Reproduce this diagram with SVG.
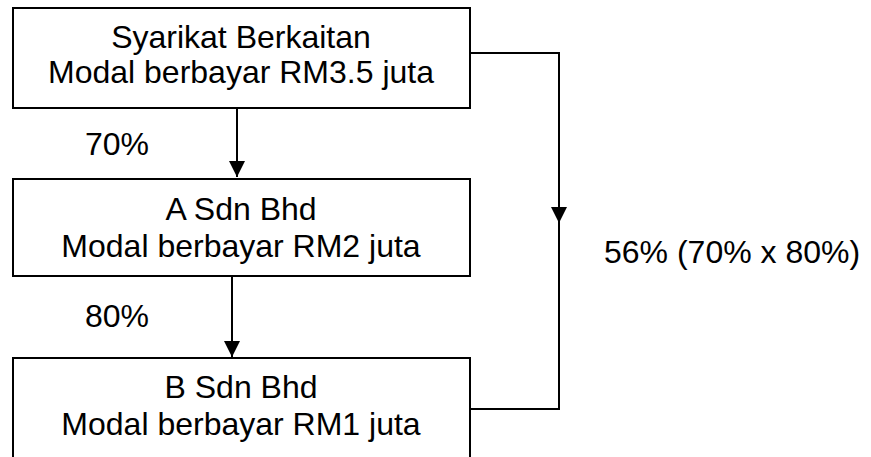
<svg xmlns="http://www.w3.org/2000/svg" width="871" height="457" viewBox="0 0 871 457">
<style>
.box{fill:#fff;stroke:#000;stroke-width:2}
.t{font-family:"Liberation Sans",Arial,sans-serif;font-size:32px;fill:#000}
.c{text-anchor:middle}
.ln{fill:none;stroke:#000;stroke-width:2}
</style>
<defs>
<marker id="ah" markerUnits="userSpaceOnUse" markerWidth="16" markerHeight="16" refX="16" refY="8" orient="auto" viewBox="0 0 16 16">
<path d="M0,0 L16,8 L0,16 z" fill="#000"/>
</marker>
</defs>
<rect width="871" height="457" fill="#fff"/>
<g id="connectors">
<path class="ln" d="M237,108 V177" marker-end="url(#ah)"/>
<path class="ln" d="M232,276 V357" marker-end="url(#ah)"/>
<path class="ln" d="M470,53 H559 V223" marker-end="url(#ah)"/>
<path class="ln" d="M559,222 V409 H470"/>
<text class="t" x="85" y="155">70%</text>
<text class="t" x="85" y="327">80%</text>
<text class="t" x="604" y="263">56% (70% x 80%)</text>
</g>
<g id="syarikat">
<rect class="box" x="13" y="8" width="457" height="100"/>
<text class="t c" x="241" y="48">Syarikat Berkaitan</text>
<text class="t c" x="241" y="83">Modal berbayar RM3.5 juta</text>
</g>
<g id="a-sdn-bhd">
<rect class="box" x="13" y="179" width="457" height="97"/>
<text class="t c" x="241" y="220">A Sdn Bhd</text>
<text class="t c" x="241" y="257">Modal berbayar RM2 juta</text>
</g>
<g id="b-sdn-bhd">
<rect class="box" x="13" y="358" width="457" height="110"/>
<text class="t c" x="241" y="398">B Sdn Bhd</text>
<text class="t c" x="241" y="435">Modal berbayar RM1 juta</text>
</g>
</svg>
